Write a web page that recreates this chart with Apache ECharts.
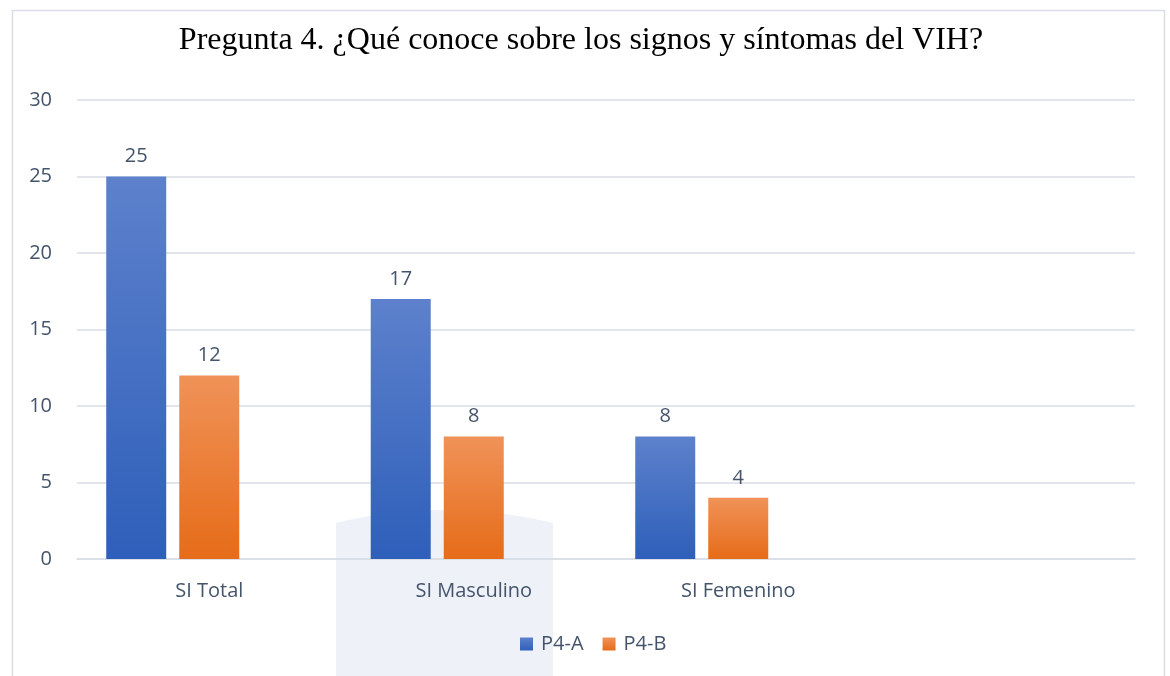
<!DOCTYPE html>
<html>
<head>
<meta charset="utf-8">
<script src="https://cdn.jsdelivr.net/npm/echarts@6/dist/echarts.min.js"></script>
<style>
html,body{margin:0;padding:0;background:#fff;}
#chart{width:1170px;height:676px;}
</style>
</head>
<body>
<div id="chart"></div>
<script>
const titleText = 'Pregunta 4. ¿Qué conoce sobre los signos y síntomas del VIH?';
const categories = ['SI Total', 'SI Masculino', 'SI Femenino', ''];
const seriesNames = ['P4-A', 'P4-B'];
const valuesA = [25, 17, 8, null];
const valuesB = [12, 8, 4, null];
const valuesEmpty = [null, null, null, null];
const yTicks = [0, 5, 10, 15, 20, 25, 30];

const textColor = '#44546a';
const labelFont = '"Open Sans", "Noto Sans", sans-serif';
const fs = 20;

function grad(top, bottom) {
  return {type: 'linear', x: 0, y: 0, x2: 0, y2: 1,
    colorStops: [{offset: 0, color: top}, {offset: 1, color: bottom}]};
}

// faint background shape (arched top)
const archPts = [];
for (let i = 0; i <= 20; i++) {
  const t = i / 20;
  const x = 336 + (553 - 336) * t;
  const y = (1 - t) * (1 - t) * 523 + 2 * (1 - t) * t * 497 + t * t * 523;
  archPts.push([x, y]);
}
archPts.push([553, 676], [336, 676]);

const chart = echarts.init(document.getElementById('chart'), null, {renderer: 'canvas'});
chart.setOption({
  animation: false,
  backgroundColor: '#ffffff',
  title: {
    text: titleText,
    left: 576,
    textAlign: 'center',
    top: 20,
    textStyle: {fontFamily: '"Liberation Serif", "DejaVu Serif", serif', fontSize: 32, fontWeight: 'normal', color: '#000000'}
  },
  graphic: [
    {
      type: 'rect', z: -100, silent: true,
      shape: {x: 12.5, y: 10.5, width: 1152, height: 700},
      style: {fill: 'none', stroke: '#d9dde6', lineWidth: 1.5}
    },
    {
      type: 'polygon', z: -90, silent: true,
      shape: {points: archPts},
      style: {fill: '#eef1f7', stroke: 'none'}
    }
  ],
  legend: {
    data: seriesNames,
    bottom: 17,
    left: 515,
    itemWidth: 13,
    itemHeight: 13,
    itemGap: 19,
    icon: 'rect',
    textStyle: {color: textColor, fontSize: fs, fontFamily: labelFont, padding: [0, 0, 0, 3]}
  },
  grid: {left: 77, right: 35, top: 100, bottom: 117, containLabel: false},
  xAxis: {
    type: 'category',
    data: categories,
    axisLine: {show: true, lineStyle: {color: '#d9dde6', width: 1.5}},
    axisTick: {show: false},
    axisLabel: {color: textColor, fontSize: fs, fontFamily: labelFont, margin: 22}
  },
  yAxis: {
    type: 'value',
    min: yTicks[0],
    max: yTicks[yTicks.length - 1],
    interval: 5,
    axisLine: {show: false},
    axisTick: {show: false},
    splitLine: {lineStyle: {color: '#d9dde6', width: 1.5}},
    axisLabel: {color: textColor, fontSize: fs, fontFamily: labelFont, margin: 25}
  },
  series: [
    {
      name: seriesNames[0], type: 'bar', data: valuesA,
      barWidth: 60, barGap: '21.7%',
      itemStyle: {color: grad('#5d81cc', '#2e5fba')},
      label: {show: true, position: 'top', distance: 10, color: textColor, fontSize: fs, fontFamily: labelFont}
    },
    {
      name: seriesNames[1], type: 'bar', data: valuesB,
      barWidth: 60, barGap: '21.7%',
      itemStyle: {color: grad('#f09258', '#e66c19')},
      label: {show: true, position: 'top', distance: 10, color: textColor, fontSize: fs, fontFamily: labelFont}
    },
    {
      name: 'empty', type: 'bar', data: valuesEmpty,
      barWidth: 60, barGap: '21.7%',
      itemStyle: {color: '#a5a5a5'}
    }
  ]
});
</script>
</body>
</html>
